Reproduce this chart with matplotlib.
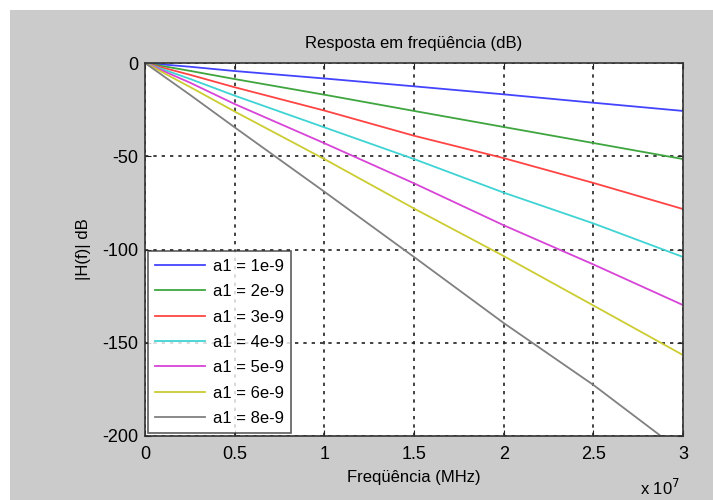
import numpy as np
import matplotlib
matplotlib.use('Agg')
import matplotlib.pyplot as plt
from matplotlib.patches import Rectangle

plt.rcParams['font.family'] = ['Liberation Sans', 'DejaVu Sans']
plt.rcParams['axes.unicode_minus'] = False

# frequency points (Hz) and attenuation (dB)
freq = [0, 0.25e7, 0.5e7, 1.0e7, 1.5e7, 2.0e7, 2.5e7, 3.0e7]
h_1e9 = [0, -2.0, -4.3, -8.3, -12.5, -16.8, -21.3, -25.7]
h_2e9 = [0, -4.2, -8.6, -17.0, -25.7, -34.3, -42.9, -51.5]
h_3e9 = [0, -6.3, -13.0, -25.5, -39.0, -51.0, -64.3, -78.3]
h_4e9 = [0, -8.5, -17.5, -34.5, -51.5, -69.5, -86.0, -104.0]
h_5e9 = [0, -10.5, -22.0, -43.0, -64.5, -87.0, -108.0, -129.8]
h_6e9 = [0, -12.8, -26.0, -51.5, -78.0, -103.5, -130.0, -156.6]
h_8e9 = [0, -17.0, -34.5, -69.0, -104.0, -139.4, -172.6, -209.0]

labels = ['a1 = 1e-9', 'a1 = 2e-9', 'a1 = 3e-9', 'a1 = 4e-9',
          'a1 = 5e-9', 'a1 = 6e-9', 'a1 = 8e-9']
series = [h_1e9, h_2e9, h_3e9, h_4e9, h_5e9, h_6e9, h_8e9]
colors = ['#4444ff', '#3fa53f', '#ff4444', '#3fd3d3', '#d744d7', '#cccc33', '#808080']

xticks = [0, 0.5e7, 1e7, 1.5e7, 2e7, 2.5e7, 3e7]
xticklabels = ['0', '0.5', '1', '1.5', '2', '2.5', '3']
yticks = [-200, -150, -100, -50, 0]

fig = plt.figure(figsize=(7.13, 5.0), dpi=100, facecolor='white')
fig.patches.append(Rectangle((10 / 713, 0), 1, 490 / 500, transform=fig.transFigure,
                             facecolor='#cbcbcb', edgecolor='none', zorder=-10))

ax = fig.add_axes([145 / 713, 64 / 500, 538 / 713, 373 / 500])
ax.set_facecolor('white')

for y, c, lab in zip(series, colors, labels):
    ax.plot(freq, y, color=c, lw=1.3, label=lab)

ax.set_xlim(0, 3e7)
ax.set_ylim(-200, 0)
ax.set_xticks(xticks)
ax.set_xticklabels(xticklabels)
ax.set_yticks(yticks)
ax.tick_params(direction='in', top=True, right=True, labelsize=13, length=4,
               color='#222222')
ax.tick_params(axis='x', pad=7)
ax.tick_params(axis='y', pad=5)
ax.grid(True, color='#222222', linestyle=(0, (2, 3)), linewidth=1.2)
for s in ax.spines.values():
    s.set_color('#333333')
    s.set_linewidth(1.2)

ax.set_title('Resposta em freqüência (dB)', fontsize=12, pad=11)
ax.set_xlabel('Freqüência (MHz)', fontsize=12, labelpad=5)
ax.set_ylabel('|H(f)| dB', fontsize=12, labelpad=8)
fig.text(660 / 713, 12 / 500, r'x 10$^7$', fontsize=12, ha='center', va='center')

leg = ax.legend(loc='lower left', fontsize=12, frameon=True, fancybox=False,
                handlelength=3.0, handletextpad=0.45, borderpad=0.45,
                labelspacing=0.62, borderaxespad=0.0,
                bbox_to_anchor=(0.005, 0.007))
leg.get_frame().set_edgecolor('#333333')
leg.get_frame().set_linewidth(1.2)

fig.savefig('out.png', dpi=100, facecolor=fig.get_facecolor())
